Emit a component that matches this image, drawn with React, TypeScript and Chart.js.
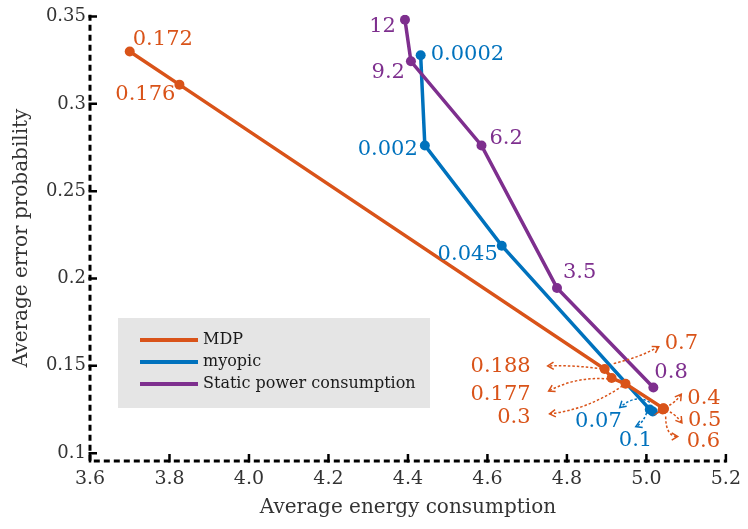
import React, { useEffect, useRef } from "react";
import { Chart, registerables } from "chart.js";

Chart.register(...registerables);

// ---------- data ----------
const seriesNames = ["MDP", "myopic", "Static power consumption"];

const mdpX = [3.7, 3.825, 4.895, 4.9125, 4.9475, 5.0425, 5.044, 5.041, 5.0435];
const mdpY = [0.33, 0.311, 0.1482, 0.143, 0.1397, 0.1257, 0.1253, 0.125, 0.1255];
const mdpLabels = ["0.172", "0.176", "0.188", "0.177", "0.3", "0.4", "0.5", "0.6", "0.7"];

const myopicX = [4.432, 4.4425, 4.636, 5.0085, 5.016];
const myopicY = [0.3278, 0.2762, 0.2188, 0.125, 0.1238];
const myopicLabels = ["0.0002", "0.002", "0.045", "0.07", "0.1"];

const staticX = [4.3925, 4.4075, 4.585, 4.775, 5.0175];
const staticY = [0.3482, 0.3244, 0.2762, 0.1946, 0.1376];
const staticLabels = ["12", "9.2", "6.2", "3.5", "0.8"];

const xTicks = [3.6, 3.8, 4.0, 4.2, 4.4, 4.6, 4.8, 5.0, 5.2];
const yTicks = [0.1, 0.15, 0.2, 0.25, 0.3, 0.35];

// ---------- styles / layout ----------
const COLORS = ["#D95319", "#0072BD", "#7E2F8E"];
const FONT = '"DejaVu Serif", serif';

type Arr = { s: [number, number]; c: [number, number]; e: [number, number] };
type LPos = { dx: number; dy: number; align: CanvasTextAlign; arrow?: Arr };

const mdpPos: LPos[] = [
  { dx: 3, dy: -12, align: "left" },
  { dx: -4, dy: 10, align: "right" },
  { dx: -74, dy: -2, align: "right", arrow: { s: [-3, 0], c: [-30, -4], e: [-57, -3] } },
  { dx: -81, dy: 16, align: "right", arrow: { s: [-3, 1], c: [-35, -2], e: [-63, 13] } },
  { dx: -95, dy: 34, align: "right", arrow: { s: [-3, 2], c: [-38, 26], e: [-76, 30] } },
  { dx: 24, dy: -10, align: "left", arrow: { s: [6, -3], c: [12, -6], e: [18, -14] } },
  { dx: 24, dy: 12, align: "left", arrow: { s: [6, 3], c: [12, 6], e: [18, 14] } },
  { dx: 24, dy: 32, align: "left", arrow: { s: [3, 7], c: [3, 27], e: [15, 27] } },
  { dx: 1, dy: -65, align: "left", arrow: { s: [-50, -45], c: [-22, -52], e: [-5, -62] } },
];
const myopicPos: LPos[] = [
  { dx: 10, dy: -1, align: "left" },
  { dx: -7, dy: 4, align: "right" },
  { dx: -4, dy: 9, align: "right" },
  { dx: -28, dy: 12, align: "right", arrow: { s: [0, -7], c: [-14, -16], e: [-30, -2] } },
  { dx: -34, dy: 29, align: "left", arrow: { s: [-6, 1], c: [-10, 12], e: [-17, 15] } },
];
const staticPos: LPos[] = [
  { dx: -9, dy: 7, align: "right" },
  { dx: -6, dy: 11, align: "right" },
  { dx: 8, dy: -7, align: "left" },
  { dx: 6, dy: -15, align: "left" },
  { dx: 1, dy: -15, align: "left" },
];

const allLabels = [mdpLabels, myopicLabels, staticLabels];
const allPos = [mdpPos, myopicPos, staticPos];

function drawArrow(ctx: CanvasRenderingContext2D, sx: number, sy: number, cx: number, cy: number, ex: number, ey: number, color: string) {
  ctx.save();
  ctx.strokeStyle = color;
  ctx.lineWidth = 1.5;
  ctx.setLineDash([2.5, 2]);
  ctx.beginPath();
  ctx.moveTo(sx, sy);
  ctx.quadraticCurveTo(cx, cy, ex, ey);
  ctx.stroke();
  ctx.setLineDash([]);
  const ang = Math.atan2(ey - cy, ex - cx);
  const L = 7;
  ctx.beginPath();
  ctx.moveTo(ex - L * Math.cos(ang - 0.55), ey - L * Math.sin(ang - 0.55));
  ctx.lineTo(ex, ey);
  ctx.lineTo(ex - L * Math.cos(ang + 0.55), ey - L * Math.sin(ang + 0.55));
  ctx.stroke();
  ctx.restore();
}

const decorPlugin = {
  id: "decor",
  beforeDatasetsDraw(chart: any) {
    const ctx: CanvasRenderingContext2D = chart.ctx;
    const xs = chart.scales.x;
    const ys = chart.scales.y;
    const { left, right, top, bottom } = chart.chartArea;
    ctx.save();
    // legend box
    ctx.fillStyle = "#e5e5e5";
    ctx.fillRect(118, 318, 312, 90);
    const ly = [340, 362, 384];
    chart.data.datasets.forEach((ds: any, i: number) => {
      ctx.strokeStyle = ds.borderColor;
      ctx.lineWidth = 4;
      ctx.beginPath();
      ctx.moveTo(140, ly[i]);
      ctx.lineTo(198, ly[i]);
      ctx.stroke();
      ctx.fillStyle = "#1a1a1a";
      ctx.font = "16px " + FONT;
      ctx.textAlign = "left";
      ctx.textBaseline = "middle";
      ctx.fillText(ds.label, 203, ly[i]);
    });
    // axes (dashed)
    ctx.strokeStyle = "#000";
    ctx.lineWidth = 3;
    ctx.setLineDash([6, 4]);
    ctx.beginPath();
    ctx.moveTo(left, top);
    ctx.lineTo(left, bottom);
    ctx.lineTo(right, bottom);
    ctx.stroke();
    ctx.setLineDash([]);
    ctx.lineWidth = 2.5;
    ctx.beginPath();
    xs.ticks.forEach((t: any) => {
      const px = xs.getPixelForValue(t.value);
      ctx.moveTo(px, bottom + 1.5);
      ctx.lineTo(px, bottom - 7);
    });
    ys.ticks.forEach((t: any) => {
      const py = ys.getPixelForValue(t.value);
      ctx.moveTo(left - 1.5, py);
      ctx.lineTo(left + 7, py);
    });
    ctx.stroke();
    ctx.restore();
  },
  afterDatasetsDraw(chart: any) {
    const ctx: CanvasRenderingContext2D = chart.ctx;
    ctx.save();
    ctx.font = "21px " + FONT;
    ctx.textBaseline = "middle";
    allLabels.forEach((labels, si) => {
      const meta = chart.getDatasetMeta(si);
      const color = COLORS[si];
      labels.forEach((txt, j) => {
        const p = meta.data[j];
        const pos = allPos[si][j];
        if (!p || !pos) return;
        if (pos.arrow) {
          const a = pos.arrow;
          drawArrow(ctx, p.x + a.s[0], p.y + a.s[1], p.x + a.c[0], p.y + a.c[1], p.x + a.e[0], p.y + a.e[1], color);
        }
        ctx.fillStyle = color;
        ctx.textAlign = pos.align;
        ctx.fillText(txt, p.x + pos.dx, p.y + pos.dy);
      });
    });
    ctx.restore();
  },
};

function toPts(xs: number[], ys: number[]) {
  return xs.map((x, i) => ({ x, y: ys[i] }));
}

export default function App() {
  const ref = useRef<HTMLCanvasElement | null>(null);
  useEffect(() => {
    document.body.style.margin = "0";
    const canvas = ref.current!;
    const mk = (i: number, xs: number[], ys: number[], order: number) => ({
      label: seriesNames[i],
      data: toPts(xs, ys),
      borderColor: COLORS[i],
      backgroundColor: COLORS[i],
      pointBackgroundColor: COLORS[i],
      pointBorderWidth: 0,
      pointRadius: 5,
      borderWidth: 3.5,
      tension: 0,
      order,
    });
    const chart = new Chart(canvas, {
      type: "line",
      data: {
        datasets: [
          mk(0, mdpX, mdpY, 1),
          mk(1, myopicX, myopicY, 2),
          mk(2, staticX, staticY, 0),
        ],
      },
      options: {
        responsive: false,
        animation: false,
        layout: { padding: { top: 10, right: 18, left: 0, bottom: 0 } },
        plugins: { legend: { display: false }, tooltip: { enabled: false } },
        scales: {
          x: {
            type: "linear",
            min: 3.6,
            max: 5.2,
            afterBuildTicks: (s: any) => {
              s.ticks = xTicks.map((v) => ({ value: v }));
            },
            afterFit: (s: any) => {
              s.height = 68;
            },
            grid: { display: false, drawTicks: false },
            border: { display: false },
            ticks: {
              color: "#333",
              font: { family: FONT, size: 19 },
              padding: 7,
              maxRotation: 0,
              autoSkip: false,
              callback: (v: any) => Number(v).toFixed(1),
            },
            title: {
              display: true,
              text: "Average energy consumption",
              color: "#333",
              font: { family: FONT, size: 20 },
              padding: { top: 0, bottom: 9 },
            },
          },
          y: {
            type: "linear",
            min: 0.0955,
            max: 0.351,
            afterBuildTicks: (s: any) => {
              s.ticks = yTicks.map((v) => ({ value: v }));
            },
            afterFit: (s: any) => {
              s.width = 90;
            },
            grid: { display: false, drawTicks: false },
            border: { display: false },
            ticks: {
              color: "#333",
              font: { family: FONT, size: 18 },
              padding: 4,
              autoSkip: false,
              callback: (v: any) => String(Number(v)),
            },
            title: {
              display: true,
              text: "Average error probability",
              color: "#333",
              font: { family: FONT, size: 20 },
              padding: { top: 10, bottom: 0 },
            },
          },
        },
      },
      plugins: [decorPlugin],
    } as any);
    return () => chart.destroy();
  }, []);
  return (
    <div style={{ width: 748, height: 529 }}>
      <canvas ref={ref} width={748} height={529} style={{ display: "block" }} />
    </div>
  );
}
